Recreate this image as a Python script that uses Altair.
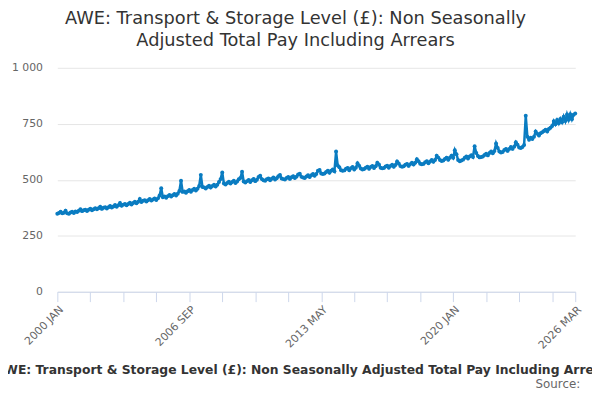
import altair as alt
import pandas as pd

title_lines = ["AWE: Transport & Storage Level (£): Non Seasonally", "Adjusted Total Pay Including Arrears"]
caption = "AWE: Transport & Storage Level (£): Non Seasonally Adjusted Total Pay Including Arrears"
source = "Source:"

months = ["JAN", "FEB", "MAR", "APR", "MAY", "JUN", "JUL", "AUG", "SEP", "OCT", "NOV", "DEC"]

v2000 = [348, 352, 357, 350, 353, 362, 350, 348, 354, 357, 352, 358]
v2001 = [356, 362, 368, 360, 364, 366, 361, 366, 371, 364, 368, 373]
v2002 = [368, 373, 380, 370, 375, 378, 372, 377, 383, 376, 381, 387]
v2003 = [380, 386, 396, 384, 389, 392, 386, 392, 398, 390, 396, 402]
v2004 = [395, 402, 414, 401, 406, 409, 403, 409, 414, 407, 412, 417]
v2005 = [410, 417, 430, 462, 422, 426, 420, 427, 432, 425, 431, 437]
v2006 = [430, 438, 450, 496, 446, 448, 442, 449, 455, 447, 454, 460]
v2007 = [452, 460, 472, 522, 468, 466, 461, 468, 473, 465, 472, 478]
v2008 = [470, 478, 490, 503, 533, 483, 479, 486, 491, 483, 490, 496]
v2009 = [486, 492, 502, 508, 536, 492, 488, 494, 499, 490, 498, 504]
v2010 = [494, 500, 512, 518, 503, 498, 496, 502, 506, 498, 505, 510]
v2011 = [501, 507, 516, 521, 506, 503, 501, 508, 512, 504, 511, 516]
v2012 = [508, 514, 524, 527, 513, 510, 508, 515, 520, 512, 520, 526]
v2013 = [518, 526, 540, 544, 528, 526, 528, 535, 541, 531, 540, 546]
v2014 = [538, 626, 564, 556, 543, 540, 542, 549, 553, 543, 552, 557]
v2015 = [546, 554, 574, 563, 550, 546, 548, 554, 558, 549, 557, 562]
v2016 = [553, 560, 576, 568, 554, 551, 553, 559, 563, 554, 562, 567]
v2017 = [558, 566, 582, 573, 561, 558, 560, 567, 571, 562, 570, 576]
v2018 = [568, 576, 592, 583, 572, 569, 571, 578, 583, 574, 582, 588]
v2019 = [580, 588, 607, 599, 588, 584, 586, 593, 599, 589, 598, 608]
v2020 = [598, 632, 614, 588, 583, 586, 590, 598, 604, 595, 604, 610]
v2021 = [602, 650, 620, 606, 600, 602, 604, 611, 616, 609, 620, 626]
v2022 = [618, 628, 662, 642, 626, 622, 624, 633, 638, 629, 638, 646]
v2023 = [638, 648, 668, 657, 644, 642, 646, 655, 786, 692, 679, 688]
v2024 = [682, 692, 716, 706, 698, 708, 712, 718, 724, 716, 727, 732]
v2025 = [740, 762, 748, 767, 752, 772, 757, 782, 762, 792, 768, 793]
v2026 = [770, 790, 796]

years = list(range(2000, 2027))
series = [v2000, v2001, v2002, v2003, v2004, v2005, v2006, v2007, v2008, v2009,
          v2010, v2011, v2012, v2013, v2014, v2015, v2016, v2017, v2018, v2019,
          v2020, v2021, v2022, v2023, v2024, v2025, v2026]

rows = []
for y, vals in zip(years, series):
    for m, v in enumerate(vals):
        rows.append({"label": f"{y} {months[m]}", "value": v})
df = pd.DataFrame(rows)
df["i"] = range(len(df))
n = len(df) - 1

label_idx = [0, 80, 160, 240, n]
tick_vals = list(range(0, n, 20)) + [n]
lab_map = {i: df.loc[i, "label"] for i in label_idx}
expr_parts = " : ".join([f"datum.value == {i} ? '{l}'" for i, l in lab_map.items()]) + " : ''"

blue = "#0a7cc1"

line = alt.Chart(df).mark_line(
    color=blue, strokeWidth=2.5,
    point=alt.OverlayMarkDef(color=blue, size=16, filled=True)
).encode(
    x=alt.X("i:Q", scale=alt.Scale(domain=[0, n], nice=False, zero=False),
            axis=alt.Axis(values=tick_vals, labelExpr=expr_parts, grid=False,
                          domainColor="#ccd6eb", tickColor="#ccd6eb", tickSize=10,
                          labelAngle=-45, labelAlign="right", labelBaseline="top",
                          labelColor="#666666", labelFontSize=11, labelPadding=2,
                          labelFont="DejaVu Sans", labelOverlap=False,
                          title=caption, titleFont="DejaVu Sans", titleFontSize=12.5,
                          titleFontWeight="bold", titleColor="#333333",
                          titleX=251, titleY=79, titleBaseline="middle")),
    y=alt.Y("value:Q", scale=alt.Scale(domain=[0, 1000], nice=False),
            axis=alt.Axis(values=[0, 250, 500, 750, 1000],
                          labelExpr="datum.value >= 1000 ? '1 000' : datum.label",
                          domain=False, ticks=False, gridColor="#e6e6e6",
                          labelColor="#666666", labelFontSize=11, labelPadding=15,
                          labelFont="DejaVu Sans", title=None))
)

src = alt.Chart(pd.DataFrame({"t": [source]})).mark_text(
    align="right", baseline="middle", fontSize=12, color="#666666", font="DejaVu Sans"
).encode(text="t:N", x=alt.value(530), y=alt.value(321))

chart = alt.layer(line, src).properties(
    width=525, height=227,
    title=alt.TitleParams(text=title_lines, anchor="middle", dx=-21, fontSize=18,
                          font="DejaVu Sans", fontWeight="normal", color="#333333",
                          lineHeight=22, offset=12),
    autosize=alt.AutoSizeParams(type="none"),
    padding={"left": 50, "top": 58, "right": 17, "bottom": 100}
).configure_view(stroke=None)

chart.save("out.html", embed_options={"renderer": "svg", "actions": False})
